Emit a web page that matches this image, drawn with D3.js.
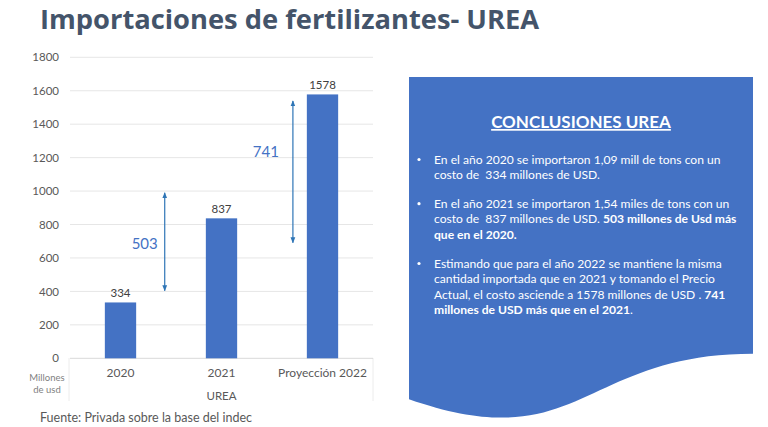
<!DOCTYPE html>
<html><head><meta charset="utf-8">
<script src="https://cdn.jsdelivr.net/npm/d3@7"></script>
<style>
html,body{margin:0;padding:0;background:#fff;}
svg{display:block;font-family:Lato, "Open Sans", sans-serif;}
</style></head>
<body>
<svg id="c" width="768" height="427"></svg>
<script>
const categories = ["2020", "2021", "Proyección 2022"];
const values = [334, 837, 1578];
const yTicks = [0, 200, 400, 600, 800, 1000, 1200, 1400, 1600, 1800];
const deltas = [
  {label: "503", between: [0, 1], gapFrac: 0.41, from: 404, to: 990, labelAt: 688, labelX: -20},
  {label: "741", between: [1, 2], gapFrac: 0.80, from: 691, to: 1539, labelAt: 1235, labelX: -27}
];
const title = "Importaciones de fertilizantes- UREA";
const axisTitle = "UREA";
const unitLines = ["Millones", "de usd"];
const source = "Fuente: Privada sobre la base del indec";
const boxTitle = "CONCLUSIONES UREA";
const bullets = [
  [[ "En el año 2020 se importaron 1,09 mill de tons con un", false]],
  [[ "costo de  334 millones de USD.", false]],
  null,
  [[ "En el año 2021 se importaron 1,54 miles de tons con un", false]],
  [[ "costo de  837 millones de USD. ", false], ["503 millones de Usd más", true]],
  [[ "que en el 2020.", true]],
  null,
  [[ "Estimando que para el año 2022 se mantiene la misma", false]],
  [[ "cantidad importada que en 2021 y tomando el Precio", false]],
  [[ "Actual, el costo asciende a 1578 millones de USD . ", false], ["741", true]],
  [[ "millones de USD más que en el 2021", true], [".", false]]
];
const bulletStarts = [0, 3, 7];

const svg = d3.select("#c");

// Title
svg.append("text").attr("x", 40).attr("y", 28.5)
  .attr("font-size", 27.3).attr("font-weight", 700).attr("fill", "#44546a")
  .attr("font-family", "'Open Sans', sans-serif")
  .text(title);

// Chart
const x = d3.scaleBand().domain(categories).range([70, 373]).paddingInner(0.69).paddingOuter(0.345);
const y = d3.scaleLinear().domain([0, 1800]).range([358.3, 57.3]);

// faint frame
svg.append("line").attr("x1", 69).attr("x2", 69).attr("y1", 358).attr("y2", 401).attr("stroke", "#ececec");
svg.append("line").attr("x1", 373).attr("x2", 373).attr("y1", 358).attr("y2", 401).attr("stroke", "#ececec");

// gridlines
svg.append("g").selectAll("line").data(yTicks).join("line")
  .attr("x1", 70).attr("x2", 373)
  .attr("y1", d => y(d)).attr("y2", d => y(d))
  .attr("stroke", d => d === 0 ? "#d9d9d9" : "#e6e6e6").attr("stroke-width", 1);

// y axis labels
const yAxis = d3.axisLeft(y).tickValues(yTicks).tickSize(0).tickPadding(0).tickFormat(d3.format("d"));
const gy = svg.append("g").attr("transform", "translate(59,0)").call(yAxis);
gy.select(".domain").remove();
gy.selectAll("text").attr("font-size", 11.5).attr("fill", "#595959").attr("font-family", "Lato, sans-serif");

// x axis labels
const xAxis = d3.axisBottom(x).tickSize(0).tickPadding(0);
const gx = svg.append("g").attr("transform", "translate(0,368)").call(xAxis);
gx.select(".domain").remove();
gx.selectAll("text").attr("font-size", 12).attr("fill", "#595959").attr("font-family", "Lato, sans-serif");

svg.append("text").attr("x", (70 + 373) / 2).attr("y", 400).attr("text-anchor", "middle")
  .attr("font-size", 11.5).attr("fill", "#595959").text(axisTitle);

svg.append("g").selectAll("text").data(unitLines).join("text")
  .attr("x", 47).attr("y", (d, i) => 381 + i * 12).attr("text-anchor", "middle")
  .attr("font-size", 9.5).attr("fill", "#7f7f7f").text(d => d);

// bars
svg.append("g").selectAll("rect").data(values).join("rect")
  .attr("x", (d, i) => x(categories[i])).attr("width", x.bandwidth())
  .attr("y", d => y(d)).attr("height", d => y(0) - y(d))
  .attr("fill", "#4472c4");

svg.append("g").selectAll("text").data(values).join("text")
  .attr("x", (d, i) => x(categories[i]) + x.bandwidth() / 2)
  .attr("y", d => y(d) - 5).attr("text-anchor", "middle")
  .attr("font-size", 11.5).attr("fill", "#404040").text(d => d);

// arrows
const defs = svg.append("defs");
defs.append("marker").attr("id", "ah").attr("viewBox", "0 0 10 10").attr("refX", 9).attr("refY", 5)
  .attr("markerWidth", 6).attr("markerHeight", 6).attr("orient", "auto-start-reverse")
  .attr("markerUnits", "userSpaceOnUse")
  .append("path").attr("d", "M0,1 L10,5 L0,9 Z").attr("fill", "#2e75b6");

deltas.forEach(dl => {
  const x0 = x(categories[dl.between[0]]) + x.bandwidth();
  const x1 = x(categories[dl.between[1]]);
  const xa = x0 + (x1 - x0) * dl.gapFrac;
  svg.append("line").attr("x1", xa).attr("x2", xa)
    .attr("y1", y(dl.to)).attr("y2", y(dl.from))
    .attr("stroke", "#2e75b6").attr("stroke-width", 1.2)
    .attr("marker-start", "url(#ah)").attr("marker-end", "url(#ah)");
  svg.append("text").attr("x", xa + dl.labelX).attr("y", y(dl.labelAt) + 5.5).attr("text-anchor", "middle")
    .attr("font-size", 15).attr("fill", "#4472c4").text(dl.label);
});

// source
svg.append("text").attr("x", 40).attr("y", 422).attr("font-size", 12.5).attr("fill", "#595959").text(source);

// Blue box (document shape)
const bx = 409, by = 77, bw = 344, bh = 345;
const p = d3.path();
p.moveTo(bx, by);
p.lineTo(bx + bw, by);
p.lineTo(bx + bw, by + 0.802 * bh);
p.bezierCurveTo(bx + 0.5 * bw, by + 0.802 * bh, bx + 0.5 * bw, by + 1.1075 * bh, bx, by + 0.934 * bh);
p.closePath();
svg.append("path").attr("d", p.toString()).attr("fill", "#4472c4");

svg.append("text").attr("x", 581).attr("y", 128).attr("text-anchor", "middle")
  .attr("font-size", 17).attr("font-weight", 700).attr("fill", "#fff")
  .attr("text-decoration", "underline").text(boxTitle);

const lineY0 = 163.5, lh = 15.6;
let yy = lineY0;
bullets.forEach((ln, i) => {
  if (ln === null) { yy += 13; return; }
  if (bulletStarts.includes(i)) {
    svg.append("circle").attr("cx", 419).attr("cy", yy - 4).attr("r", 1.6).attr("fill", "#fff");
  }
  const t = svg.append("text").attr("x", 434).attr("y", yy).attr("font-size", 12.1).attr("fill", "#fff");
  ln.forEach(seg => t.append("tspan").attr("font-weight", seg[1] ? 700 : 400).text(seg[0]));
  t.style("white-space", "pre");
  yy += lh;
});
</script>
</body></html>
